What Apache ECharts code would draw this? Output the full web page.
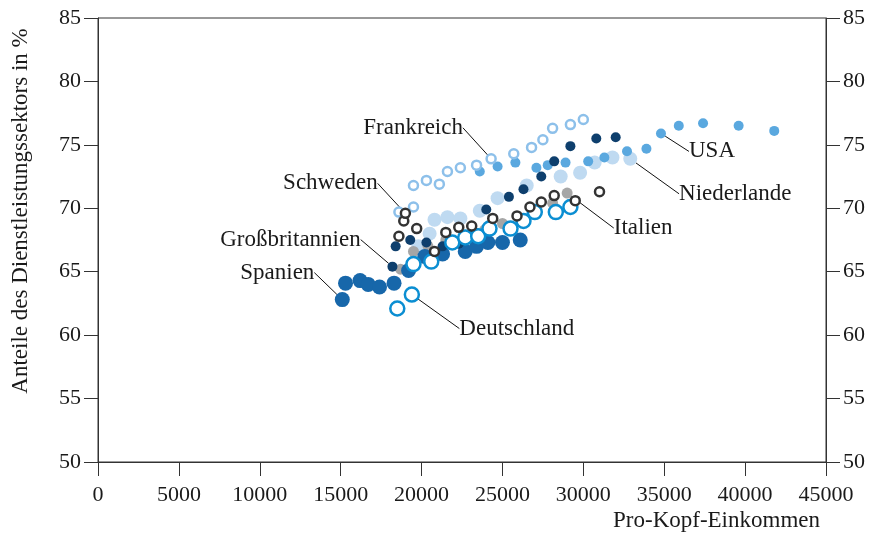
<!DOCTYPE html>
<html>
<head>
<meta charset="utf-8">
<script src="https://cdn.jsdelivr.net/npm/echarts@6/dist/echarts.min.js"></script>
<style>
  html, body { margin: 0; padding: 0; background: #fff; }
  #chart { width: 885px; height: 533px; }
</style>
</head>
<body>
<div id="chart"></div>
<script>
// axis ticks
var xTicks = [0, 45000, 5000];   // min, max, interval
var yTicks = [50, 85, 5];

// [Pro-Kopf-Einkommen, Anteil %]
var frankreich = [[18600,69.7],[19500,70.1],[19500,71.8],[20300,72.2],[21100,71.9],[21600,72.9],[22400,73.2],[23400,73.4],[24300,73.9],[25700,74.3],[26800,74.8],[27500,75.4],[28100,76.3],[29200,76.6],[30000,77.0]];
var usa = [[23600,72.9],[24700,73.3],[25800,73.6],[27100,73.2],[27800,73.4],[28900,73.6],[30300,73.7],[31300,74.0],[32700,74.5],[33900,74.7],[34800,75.9],[35900,76.5],[37400,76.7],[39600,76.5],[41800,76.1]];
var niederlande = [[19800,67.0],[20500,68.0],[20800,69.1],[21600,69.3],[22400,69.2],[23600,69.8],[24700,70.8],[26500,71.8],[28600,72.5],[29800,72.8],[30700,73.6],[31800,74.0],[32900,73.9]];
var schweden = [[18600,67.8],[18900,69.0],[19000,69.6],[19700,68.4],[20800,66.6],[21500,68.1],[22300,68.5],[23100,68.6],[24400,69.2],[25900,69.4],[26700,70.1],[27400,70.5],[28200,71.0],[29500,70.6],[31000,71.3]];
var grossbritannien = [[18200,65.4],[18400,67.0],[19300,67.5],[20300,67.3],[21300,67.0],[22300,67.2],[23300,68.1],[24000,69.9],[25400,70.9],[26300,71.5],[27400,72.5],[28200,73.7],[29200,74.9],[30800,75.5],[32000,75.6]];
var italien = [[18700,65.2],[19500,66.6],[20400,67.0],[21500,67.5],[22700,67.8],[23900,68.3],[25000,68.8],[26100,69.2],[27000,69.9],[28100,70.4],[29000,71.2]];
var deutschland = [[18500,62.1],[19400,63.2],[19500,65.6],[20600,65.8],[21900,67.3],[22700,67.7],[23500,67.8],[24200,68.4],[25500,68.4],[26300,69.0],[27000,69.7],[28300,69.7],[29200,70.1]];
var spanien = [[15100,62.8],[15300,64.1],[16200,64.3],[16700,64.0],[17400,63.8],[18300,64.1],[19200,65.1],[20200,66.2],[21300,66.4],[22700,66.6],[23400,67.0],[24100,67.3],[25000,67.3],[26100,67.5]];

var FONT = '"Liberation Serif", "DejaVu Serif", serif';
var TEXT = '#1a1a1a';
var LINE = '#333';

// only one point per country carries the name
function labelled(data, idx, name) {
    return data.map(function (d, i) {
        if (i !== idx) return d;
        return {
            value: d,
            label: {
                show: true,
                position: 'inside',
                formatter: name,
                color: TEXT,
                fontFamily: FONT,
                fontSize: 23
            }
        };
    });
}

function base(name, data, size, idx, dx, dy) {
    return {
        name: name, type: 'scatter', symbolSize: size,
        data: labelled(data, idx, name),
        labelLayout: { dx: dx, dy: dy, hideOverlap: false },
        labelLine: { show: true, lineStyle: { color: '#111', width: 1 } }
    };
}
function ring(name, data, color, size, border, idx, dx, dy) {
    var s = base(name, data, size, idx, dx, dy);
    s.itemStyle = { color: '#fff', borderColor: color, borderWidth: border, opacity: 1 };
    return s;
}
function dot(name, data, color, size, idx, dx, dy) {
    var s = base(name, data, size, idx, dx, dy);
    s.itemStyle = { color: color, opacity: 1 };
    return s;
}

function plain(v) { return String(v); }

function yAxis(pos) {
    return {
        type: 'value', position: pos,
        min: yTicks[0], max: yTicks[1], interval: yTicks[2],
        axisLine: { show: true, lineStyle: { color: LINE, width: 1 } },
        axisTick: { show: true, length: 14, lineStyle: { color: LINE } },
        axisLabel: { color: TEXT, fontFamily: FONT, fontSize: 22, margin: 17, formatter: plain },
        splitLine: { show: false }
    };
}

var left = yAxis('left');
left.name = 'Anteile des Dienstleistungssektors in %';
left.nameLocation = 'middle';
left.nameGap = 66;
left.nameTextStyle = { color: TEXT, fontFamily: FONT, fontSize: 23, padding: [0, 0, 0, 58] };

var chart = echarts.init(document.getElementById('chart'));
chart.setOption({
    animation: false,
    backgroundColor: '#fff',
    grid: { left: 98, right: 59, top: 18, bottom: 71, show: true, borderColor: LINE, borderWidth: 1 },
    xAxis: {
        type: 'value',
        min: xTicks[0], max: xTicks[1], interval: xTicks[2],
        name: 'Pro-Kopf-Einkommen',
        nameLocation: 'end',
        nameGap: -6,
        nameTextStyle: { color: TEXT, fontFamily: FONT, fontSize: 23, align: 'right', verticalAlign: 'top', padding: [47, 0, 0, 0] },
        axisLine: { show: true, lineStyle: { color: LINE, width: 1 } },
        axisTick: { show: true, length: 14, lineStyle: { color: LINE } },
        axisLabel: { color: TEXT, fontFamily: FONT, fontSize: 22, margin: 22, formatter: plain },
        splitLine: { show: false }
    },
    yAxis: [left, yAxis('right')],
    series: [
        dot('Niederlande', niederlande, '#bfdaf1', 14, 12, 105, 35),
        dot('Italien', italien, '#a6a6a6', 11, 10, 76, 35),
        dot('USA', usa, '#5aa8df', 10, 10, 51, 18),
        dot('Spanien', spanien, '#1767aa', 15, 0, -65, -27),
        dot('Großbritannien', grossbritannien, '#0e3f6d', 10, 0, -102, -27),
        ring('Frankreich', frankreich, '#8dc0ea', 9, 2.5, 8, -78, -31),
        ring('Deutschland', deutschland, '#0b8ed2', 14, 2.5, 1, 105, 34),
        ring('Schweden', schweden, '#333333', 9, 2.5, 2, -75, -30)
    ]
});
</script>
</body>
</html>
